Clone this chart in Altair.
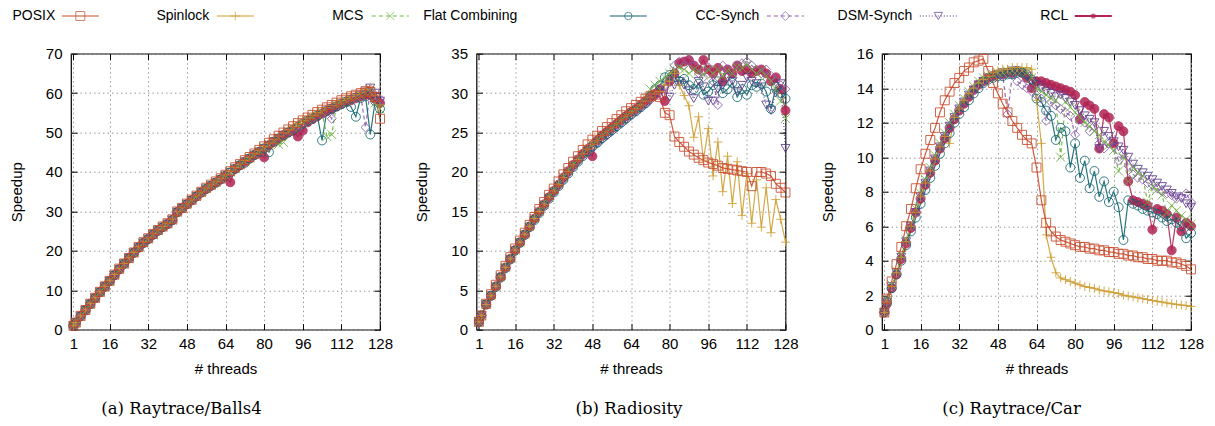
import altair as alt
import pandas as pd

THREADS = [1] + list(range(2, 129, 2))
XTICKS = [1, 16, 32, 48, 64, 80, 96, 112, 128]
SERIES = ["POSIX", "Spinlock", "MCS", "Flat Combining", "CC-Synch", "DSM-Synch", "RCL"]

# ---------------- (a) Raytrace/Balls4 ----------------
A_POSIX = [1, 1.8, 3.5, 5, 6.6, 8.1, 9.6, 11, 12.4, 14,
           15.5, 16.8, 18.2, 19.6, 21, 22.2, 23.2, 24.3, 25.3, 26.2,
           27, 28, 30, 30.9, 32, 33, 34, 35, 36, 36.8,
           37.6, 38.4, 39.3, 40.2, 41.2, 42, 43, 43.8, 44.7, 45.6,
           46.5, 47.4, 48.3, 49.2, 50, 50.8, 51.6, 52.4, 53.1, 53.8,
           54.5, 55.2, 55.8, 56.4, 57, 57.6, 58.2, 58.7, 59.2, 59.6,
           60, 60.5, 60.3, 59, 53.5]
A_SPIN = [1, 1.8, 3.5, 5, 6.6, 8.1, 9.6, 11, 12.4, 14,
          15.5, 16.8, 18.2, 19.6, 21, 22.2, 23.2, 24.3, 25.3, 26.2,
          27, 28, 29.9, 30.9, 31.9, 32.9, 33.9, 34.9, 35.9, 36.7,
          37.5, 38.3, 39.2, 40.1, 41.1, 41.9, 42.9, 43.7, 44.6, 45.5,
          46.4, 47.3, 48.2, 49.1, 49.9, 50.7, 51.5, 52.3, 53, 53.7,
          54.4, 55.1, 55.7, 56.3, 56.9, 57.5, 58.1, 58.6, 59.1, 59.6,
          60.2, 61, 61.5, 59.5, 57]
A_MCS = [1, 1.8, 3.4, 4.9, 6.5, 8, 9.5, 10.9, 12.3, 13.8,
         15.3, 16.7, 18, 19.4, 20.8, 22, 23, 24.1, 25.1, 26,
         26.8, 27.8, 29.7, 30.7, 31.8, 32.8, 33.8, 34.8, 35.8, 36.6,
         37.4, 38.2, 39.1, 40, 40.9, 41.8, 42.7, 43.5, 44.4, 45.3,
         46.2, 47, 47.8, 47, 47.5, 50.3, 51.2, 52, 52.6, 53.3,
         54, 54.6, 55.2, 49, 49.5, 57, 57.5, 58, 58.6, 59,
         59.5, 60, 60.2, 57.5, 56]
A_FC = [1, 1.8, 3.4, 4.9, 6.5, 8, 9.5, 10.9, 12.3, 13.8,
        15.3, 16.7, 18.1, 19.5, 20.8, 22, 23, 24.1, 25.1, 26,
        26.8, 27.8, 29.8, 30.8, 31.8, 32.8, 33.8, 34.8, 35.7, 36.5,
        37.3, 38.1, 39, 39.9, 40.8, 41.7, 42.3, 43.4, 44.3, 45.1,
        46, 45, 47.6, 48.5, 49.3, 50, 50.7, 51.5, 52.3, 53,
        53.5, 54.3, 48, 55.5, 56, 56.6, 57.2, 57.8, 56.5, 54,
        58.8, 59.2, 49.5, 58, 56]
A_CC = [1, 1.8, 3.4, 4.9, 6.5, 8, 9.5, 10.9, 12.3, 13.8,
        15.3, 16.7, 18.1, 19.5, 20.8, 22, 23, 24.1, 25.1, 26,
        26.8, 27.8, 29.8, 30.8, 31.8, 32.8, 33.8, 34.8, 35.7, 36.5,
        37.3, 38.1, 39, 39.9, 40.8, 41.7, 42.6, 43.4, 44.3, 45.1,
        46, 46.8, 47.7, 48.5, 49.3, 50.1, 50.8, 51.6, 52.3, 53,
        53.7, 54.3, 55, 55.6, 53.5, 56.8, 57.4, 57.9, 58.4, 58.9,
        59.4, 51.3, 61, 59.5, 58.5]
A_DSM = [1, 1.8, 3.4, 4.9, 6.5, 8, 9.5, 10.9, 12.3, 13.8,
         15.3, 16.7, 18.1, 19.5, 20.8, 22, 23, 24.1, 25.1, 26,
         26.8, 27.8, 29.8, 30.8, 31.8, 32.8, 33.8, 34.8, 35.7, 36.5,
         37.3, 38.1, 39, 39.9, 40.8, 41.7, 42.6, 43.4, 44.3, 45.1,
         46, 46.8, 47.7, 48.5, 49.3, 50, 50.6, 51.3, 52, 52.8,
         53.5, 54.1, 54.8, 55.5, 56.1, 56.7, 57.3, 57.8, 58.4, 58.9,
         59.5, 60.3, 61.3, 60, 58]
A_RCL = [1, 1.8, 3.4, 4.9, 6.5, 8, 9.5, 10.9, 12.3, 13.8,
         15.3, 16.7, 18.1, 19.5, 20.8, 22, 23, 24.1, 25.1, 26,
         26.8, 27.8, 29.8, 30.8, 31.8, 32.8, 33.8, 34.8, 35.7, 36.5,
         37.3, 38.1, 39, 37.4, 40.8, 41.7, 42.6, 43.4, 44.3, 45.1,
         43.7, 46.8, 47.7, 48.5, 49.3, 50, 50.4, 49, 50.5, 52.6,
         53.4, 54.1, 54.8, 55.4, 56, 56.6, 57.2, 57.7, 58.2, 58.7,
         59.2, 59.6, 59.5, 58.5, 57.5]

# ---------------- (b) Radiosity ----------------
B_POSIX = [1, 1.8, 3.3, 4.5, 5.7, 6.9, 8.1, 9.2, 10.3, 11.3,
           12.3, 13.3, 14.3, 15.3, 16.2, 17.1, 17.9, 18.8, 19.7, 20.5,
           21.3, 22, 22.8, 23.5, 24.1, 24.6, 25.2, 25.7, 26.2, 26.7,
           27.2, 27.7, 28.1, 28.5, 28.9, 29.3, 29.6, 29.8, 29.5, 27.5,
           27.2, 24.5, 23.8, 23.2, 22.6, 22.2, 21.8, 21.5, 21.2, 21,
           20.8, 20.5, 20.4, 20.3, 20.2, 20.1, 20, 18.2, 20, 20,
           19.8, 19.5, 18.5, 18, 17.4]
B_SPIN = [1, 1.8, 3.2, 4.3, 5.5, 6.7, 7.9, 9, 10.1, 11.1,
          12.1, 13.1, 14.1, 15, 15.9, 16.8, 17.6, 18.4, 19.3, 20.1,
          20.9, 21.6, 22.3, 22.9, 23.5, 24, 24.6, 25.1, 25.6, 26.1,
          26.6, 27.1, 27.6, 28, 28.5, 29, 29.5, 29.9, 30.2, 31,
          31.5, 32.5, 31, 29.7, 28.4, 24.4, 27, 21.5, 25.5, 19.5,
          23.8, 17.5, 22, 16, 21.3, 14.5, 19.8, 13.5, 19, 13,
          18, 12.3, 16.5, 14, 11.1]
B_MCS = [1, 1.8, 3.2, 4.3, 5.5, 6.7, 7.9, 9, 10.1, 11.1,
         12.1, 13.1, 14.1, 15, 15.9, 16.8, 17.6, 18.4, 19.3, 20.1,
         20.9, 21.6, 22.3, 22.9, 23.5, 24, 24.6, 25.1, 25.6, 26.1,
         26.6, 27.1, 27.6, 28, 28.5, 29.5, 30.5, 31, 31.5, 32,
         32.5, 33, 33.2, 33, 32.5, 33, 32.8, 32.3, 33, 32.5,
         33, 32.2, 32.8, 32.5, 33.3, 33.2, 33.6, 33, 32.5, 32.8,
         32.2, 31.5, 30.5, 29, 26.8]
B_FC = [1, 1.8, 3.2, 4.3, 5.4, 6.6, 7.8, 8.9, 10, 11,
        12, 13, 13.9, 14.8, 15.7, 16.6, 17.4, 18.2, 19, 19.8,
        20.6, 21.3, 22, 22.6, 23.2, 23.7, 24.3, 24.8, 25.3, 25.8,
        26.3, 26.8, 27.3, 27.7, 28.2, 28.7, 29.6, 30.5, 31, 32,
        32.3, 32, 31.5, 31.8, 31, 30.5, 31.2, 29.8, 30.2, 31,
        31.5, 30, 30.5, 31.3, 29.5, 30.5, 29.8, 31, 30.8, 31.2,
        30.2, 28, 30.8, 30, 29.3]
B_CC = [1, 1.8, 3.2, 4.3, 5.4, 6.6, 7.8, 8.9, 10, 11,
        12, 13, 13.9, 14.8, 15.7, 16.6, 17.4, 18.2, 19, 19.8,
        20.6, 21.3, 22, 22.6, 23.1, 23.6, 24.1, 24.6, 25.1, 25.6,
        26.1, 26.6, 27.1, 27.6, 28.1, 28.6, 29.1, 29.6, 30.5, 31,
        32, 33.5, 34, 33.5, 34.2, 33.5, 32.5, 32, 33.3, 31.5,
        28.5, 33.5, 33, 32, 33.5, 33.8, 34, 33.5, 33, 32.5,
        33, 32.2, 31.5, 31, 30.5]
B_DSM = [1, 1.8, 3.2, 4.3, 5.4, 6.6, 7.8, 8.9, 10, 11,
         12, 13, 13.9, 14.8, 15.7, 16.6, 17.4, 18.2, 19, 19.8,
         20.6, 21.3, 22, 22.6, 23.1, 23.6, 24.1, 24.6, 25.1, 25.6,
         26.1, 26.6, 27.1, 27.6, 28.1, 28.6, 29.1, 29.6, 30, 30.5,
         29.5, 31, 31.5, 31, 30.3, 29.3, 31.5, 30.8, 29, 29,
         30.5, 31, 32, 31.5, 30.2, 31, 32, 31.5, 31.2, 30.8,
         28.5, 27.8, 30, 31.2, 23]
B_RCL = [1, 1.8, 3.2, 4.3, 5.5, 6.7, 7.9, 9, 10.1, 11.1,
         12.1, 13.1, 14.1, 15, 15.9, 16.8, 17.6, 18.4, 19.3, 20.1,
         20.9, 21.6, 22.3, 22.9, 22, 24, 24.6, 25.1, 25.6, 26.1,
         26.6, 27.1, 27.6, 28, 28.5, 29, 29.5, 29.9, 30.5, 29,
         31.5, 32.5, 33.8, 34, 34.2, 33.5, 33, 34.2, 33, 32.5,
         33.2, 31.5, 33, 32.5, 33.5, 32.8, 33, 32.5, 32.8, 33,
         32.5, 31.5, 32, 30.5, 27.8]

# ---------------- (c) Raytrace/Car ----------------
C_POSIX = [1, 1.8, 2.8, 3.8, 4.8, 6, 7, 8.2, 9.3, 10.2,
           11, 11.7, 12.6, 13.3, 13.8, 14.3, 14.6, 15, 15.2, 15.5,
           15.6, 15.7, 15, 14.3, 13.7, 13.1, 12.6, 12.1, 11.7, 11.3,
           11, 10.8, 9.4, 7.5, 6.2, 5.7, 5.4, 5.2, 5.1, 5,
           4.9, 4.8, 4.8, 4.7, 4.7, 4.6, 4.6, 4.5, 4.5, 4.4,
           4.4, 4.3, 4.3, 4.2, 4.2, 4.1, 4.1, 4, 4, 4,
           3.9, 3.9, 3.8, 3.7, 3.5]
C_SPIN = [1, 1.6, 2.5, 3.3, 4.2, 5.1, 6, 6.8, 7.7, 8.5,
          9.2, 9.9, 10.6, 11.2, 10.8, 12.3, 12.8, 13.3, 13.7, 14,
          14.3, 14.5, 14.7, 14.9, 15, 15.1, 15.1, 15.2, 15.2, 15.2,
          15.2, 15.1, 13.3, 10.8, 5.5, 4.2, 3.3, 3, 2.9, 2.8,
          2.7, 2.6, 2.5, 2.45, 2.4, 2.3, 2.25, 2.2, 2.15, 2.1,
          2, 1.95, 1.9, 1.85, 1.8, 1.75, 1.7, 1.65, 1.6, 1.55,
          1.5, 1.47, 1.43, 1.4, 1.35]
C_MCS = [1, 1.7, 2.6, 3.4, 4.3, 5.2, 6.1, 7, 7.9, 8.7,
         9.4, 10.1, 10.8, 11.4, 12, 12.5, 13, 13.4, 13.8, 14.1,
         14.4, 14.6, 14.7, 14.8, 14.9, 14.9, 15, 15, 15, 15,
         14.9, 14.6, 14, 13.8, 13.6, 13.4, 13.3, 10, 13.2, 12.9,
         12.6, 12.3, 12, 11.8, 11.5, 11.3, 10.9, 10.7, 10.4, 9.2,
         10, 8.6, 9.4, 9.1, 8.9, 7.4, 8.3, 8.1, 7.8, 6.8,
         7.2, 6.9, 6.6, 6.4, 6.1]
C_FC = [1, 1.6, 2.4, 3.2, 4, 4.9, 5.7, 6.5, 7.3, 8.1,
        8.8, 9.5, 10.2, 10.8, 11.4, 12, 12.5, 12.9, 13.3, 13.7,
        14, 14.3, 14.5, 14.6, 14.7, 14.7, 14.8, 14.8, 14.9, 14.9,
        14.8, 14.5, 13.4, 13.2, 12.7, 12.4, 11, 11.7, 11.5, 9.4,
        10.8, 8.8, 9.8, 8.2, 9.2, 7.7, 8.6, 7.4, 8, 7.1,
        5.2, 7.5, 7.3, 7.2, 7, 6.9, 6.8, 6.7, 6.5, 6.3,
        6.4, 6.2, 6, 5.3, 5.6]
C_CC = [1, 1.6, 2.5, 3.3, 4.2, 5.1, 6, 6.8, 7.7, 8.5,
        9.2, 9.9, 10.6, 11.2, 11.8, 12.3, 12.8, 13.2, 13.6, 13.9,
        14.2, 14.4, 14.6, 14.7, 14.8, 14.8, 12.5, 14.8, 14.4, 14.2,
        14, 13.8, 13.6, 13.4, 12.1, 13.2, 13, 12.8, 12.6, 12.4,
        11.3, 12.2, 12, 11.5, 11.8, 10.8, 10.5, 10.8, 10.6, 9.8,
        10.2, 9.5, 9, 8.8, 8.7, 8.5, 8.4, 8.2, 8, 7.9,
        7.8, 7.6, 7.7, 7.9, 7.4]
C_DSM = [1, 1.6, 2.5, 3.3, 4.2, 5.1, 6, 6.8, 7.7, 8.5,
         9.2, 9.9, 10.6, 11.2, 11.8, 12.3, 12.8, 13.2, 13.6, 13.9,
         14.2, 14.4, 14.6, 14.7, 14.8, 14.9, 14.9, 15, 15, 14.9,
         14.7, 14.4, 14.2, 14, 13.8, 13.7, 13.5, 13.6, 13.4, 13.2,
         13, 12.7, 12.4, 12.2, 12, 10.5, 11.5, 11.2, 10.9, 10.6,
         10.4, 10, 9.6, 9.3, 9.1, 8.9, 8.7, 8.5, 8.3, 8.1,
         7.9, 7.7, 7.6, 7.3, 7.1]
C_RCL = [1, 1.5, 2.4, 3.2, 4.1, 5, 5.9, 6.8, 7.6, 8.4,
         9.1, 9.8, 10.5, 11.1, 11.7, 12.2, 12.7, 13.1, 13.5, 13.9,
         14.2, 14.4, 14.6, 14.7, 14.8, 14.8, 14.9, 14.9, 15, 14.9,
         14.6, 14, 14.4, 14.4, 14.3, 14.2, 14.1, 14, 13.9, 13.8,
         13.6, 12.2, 13.2, 13, 12.8, 10.5, 12.5, 12.3, 10.8, 11.8,
         11.5, 8.6, 7.5, 7.4, 7.3, 7.2, 5.8, 7, 6.9, 6.7,
         4.6, 6.5, 5.7, 6.2, 6]

# ---------------- styling ----------------
FONT = "Liberation Sans"
COLORS = ["#c94a2b", "#cf9e32", "#6db33f", "#11656f", "#8b5cad", "#5b3a8c", "#b02353"]
SHAPES = ["square", "M-1,0L1,0M0,-1L0,1", "M-1,-1L1,1M-1,1L1,-1", "circle",
          "diamond", "triangle-down", "circle"]
FILLS = ["transparent"] * 6 + ["#b02353"]
DASHES = [[1, 0], [1, 0], [4, 3], [1, 0], [4, 3], [1, 2], [1, 0]]
WIDTHS = [1.2, 1.2, 1.1, 1.2, 1.1, 1.2, 2.2]
SIZES = [80, 80, 60, 55, 80, 70, 26]

# legend layout (page pixels) and the page x of panel (a)'s left frame edge
PANEL_A_LEFT = 70.7
LEG_MARK_X = [80, 235, 390, 628, 785, 938, 1093]
LEG_TEXT_END = [55, 209, 363, 517, 759, 912, 1068]
LEG_Y = 7


def enc_color():
    return alt.Color("series:N", scale=alt.Scale(domain=SERIES, range=COLORS), legend=None)


def enc_shape():
    return alt.Shape("series:N", scale=alt.Scale(domain=SERIES, range=SHAPES), legend=None)


def enc_fill():
    return alt.Fill("series:N", scale=alt.Scale(domain=SERIES, range=FILLS), legend=None)


def enc_size():
    return alt.Size("series:N", scale=alt.Scale(domain=SERIES, range=SIZES), legend=None)


def enc_dash():
    return alt.StrokeDash("series:N", scale=alt.Scale(domain=SERIES, range=DASHES), legend=None)


def enc_width():
    return alt.StrokeWidth("series:N", scale=alt.Scale(domain=SERIES, range=WIDTHS), legend=None)


def panel(arrays, ymax, ystep, caption, cap_dx):
    rows = []
    for k in reversed(range(len(SERIES))):
        for t, v in zip(THREADS, arrays[k]):
            rows.append({"series": SERIES[k], "threads": t, "speedup": v})
    df = pd.DataFrame(rows)
    xs = alt.Scale(domain=[0, 128], nice=False, zero=False)
    ys = alt.Scale(domain=[0, ymax], nice=False)
    yvals = list(range(0, ymax + 1, ystep))
    xaxis = alt.Axis(values=XTICKS, title="# threads", offset=-6, tickSize=6, labelPadding=7,
                     titlePadding=10, grid=True, gridDash=[1.5, 3], gridColor="#9a9a9a",
                     domain=False, labelFlush=False, labelOverlap=False)
    yaxis = alt.Axis(values=yvals, title="Speedup", offset=-6, tickSize=6, labelPadding=9,
                     titlePadding=21, grid=True, gridDash=[1.5, 3], gridColor="#9a9a9a",
                     domain=False, labelFlush=False, labelOverlap=False)
    base = alt.Chart(df)
    lines = base.mark_line(opacity=0.9).encode(
        x=alt.X("threads:Q", scale=xs, axis=xaxis),
        y=alt.Y("speedup:Q", scale=ys, axis=yaxis),
        color=enc_color(), strokeDash=enc_dash(), strokeWidth=enc_width(),
    )
    points = base.mark_point(filled=False, strokeWidth=1, opacity=0.85).encode(
        x=alt.X("threads:Q", scale=xs, axis=None),
        y=alt.Y("speedup:Q", scale=ys, axis=None),
        color=enc_color(), shape=enc_shape(), fill=enc_fill(), size=enc_size(),
    )
    mirror = base.mark_point(opacity=0).encode(
        x=alt.X("threads:Q", scale=xs,
                axis=alt.Axis(orient="top", values=XTICKS, labels=False, title=None, offset=-6,
                              tickSize=6, grid=False, domain=False)),
        y=alt.Y("speedup:Q", scale=ys,
                axis=alt.Axis(orient="right", values=yvals, labels=False, title=None, offset=-6,
                              tickSize=6, grid=False, domain=False)),
    )
    return alt.layer(lines, points, mirror).resolve_axis(x="independent", y="independent").properties(
        width=309, height=276,
        title=alt.TitleParams(caption, orient="bottom", font="DejaVu Serif", fontSize=16.5,
                              fontWeight="normal", color="black", offset=24, anchor="middle",
                              frame="group", dx=cap_dx),
    )


pa = panel([A_POSIX, A_SPIN, A_MCS, A_FC, A_CC, A_DSM, A_RCL], 70, 10, "(a) Raytrace/Balls4", -44)
pb = panel([B_POSIX, B_SPIN, B_MCS, B_FC, B_CC, B_DSM, B_RCL], 35, 5, "(b) Radiosity", -2)
pc = panel([C_POSIX, C_SPIN, C_MCS, C_FC, C_CC, C_DSM, C_RCL], 16, 2, "(c) Raytrace/Car", -25)

# ---------------- legend row (label, then sample line with marker) ----------------
leg_layers = []
for i, name in enumerate(SERIES):
    c = alt.Chart(pd.DataFrame({"series": [name]}))
    mx = LEG_MARK_X[i] - PANEL_A_LEFT
    tx = LEG_TEXT_END[i] - PANEL_A_LEFT
    leg_layers.append(c.mark_rule(color=COLORS[i], strokeDash=DASHES[i], strokeWidth=WIDTHS[i]).encode(
        x=alt.value(mx - 18.5), x2=alt.value(mx + 18.5), y=alt.value(LEG_Y)))
    leg_layers.append(c.mark_point(shape=SHAPES[i], size=SIZES[i], color=COLORS[i],
                                   filled=(i == 6), strokeWidth=1).encode(
        x=alt.value(mx), y=alt.value(LEG_Y)))
    leg_layers.append(c.mark_text(align="right", baseline="middle", font=FONT, fontSize=14,
                                  color="black").encode(
        x=alt.value(tx), y=alt.value(LEG_Y), text="series:N"))
legend = alt.layer(*leg_layers).properties(
    width=1120, height=14, view=alt.ViewBackground(stroke="transparent")
)

row = alt.hconcat(pa, pb, pc, spacing=96.5, bounds="flush")
chart = alt.vconcat(legend, row, spacing=30.7, bounds="flush").properties(
    padding={"left": 0, "top": 0, "right": 0, "bottom": 0}
).configure_view(stroke="black", strokeWidth=1.2).configure_axis(
    labelFont=FONT, titleFont=FONT, labelFontSize=15, titleFontSize=15, titleFontWeight="normal",
    labelColor="black", titleColor="black", tickColor="black", tickWidth=1,
)

chart.save("out.html", embed_options={"renderer": "svg", "actions": False})
